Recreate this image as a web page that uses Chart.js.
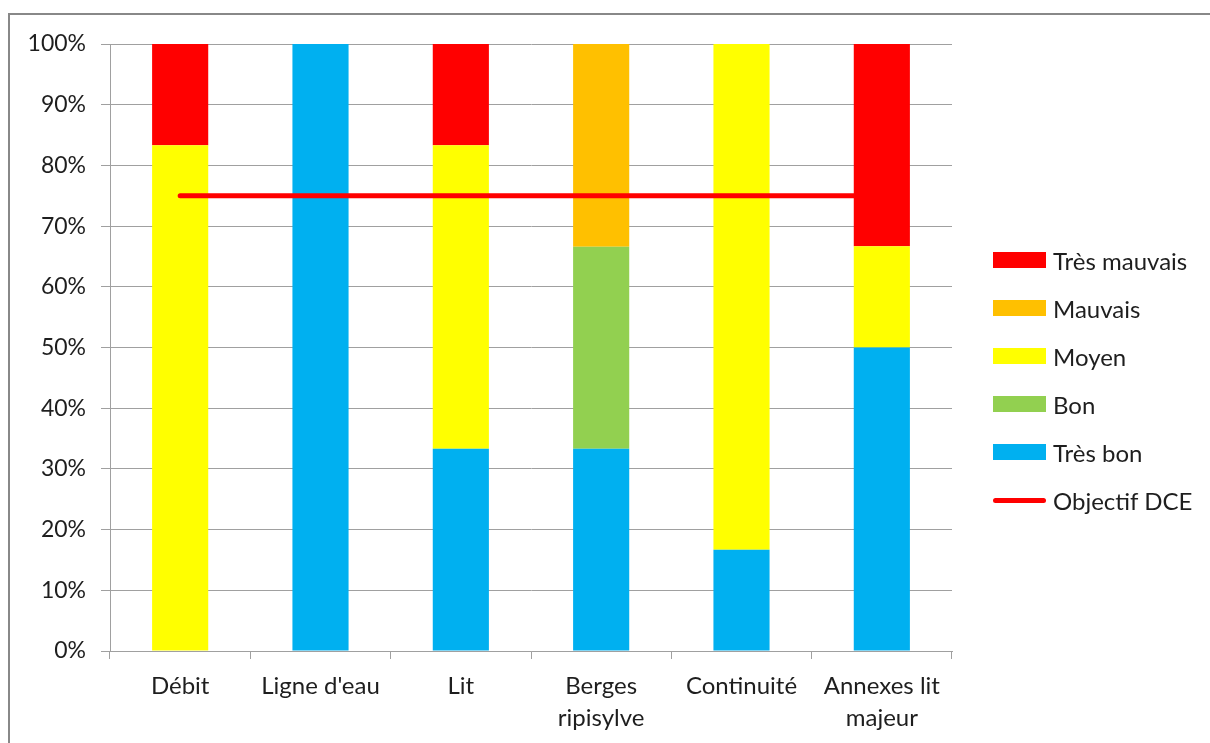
<!DOCTYPE html>
<html>
<head>
<meta charset="utf-8">
<script src="https://cdn.jsdelivr.net/npm/chart.js@4"></script>
<style>
	html, body { margin: 0; padding: 0; background: #fff; }
	body { width: 1210px; height: 743px; position: relative; overflow: hidden; font-family: Lato, "Open Sans", sans-serif; }
	.frame { position: absolute; left: 8px; top: 13px; width: 1300px; height: 800px; border-left: 2px solid #888; border-top: 2px solid #888; }
	#chart { position: absolute; left: 0; top: 0; }
	.legend { position: absolute; left: 993px; top: 249px; }
	.legend-item { height: 48px; display: flex; align-items: center; font-size: 24px; color: #1e1e1e; position: relative; top: -13px; }
	.legend-item .swatch { width: 53px; height: 16px; margin-right: 7px; }
	.legend-item .stroke { width: 53px; height: 5px; border-radius: 3px; margin-right: 7px; }
</style>
</head>
<body>
<div class="frame"></div>
<canvas id="chart" width="1210" height="743"></canvas>
<div class="legend js-legend"></div>
<script>
const categories = ["Débit", "Ligne d'eau", "Lit", ["Berges", "ripisylve"], "Continuité", ["Annexes lit", "majeur"]];

// répartition en % par classe d'état
const tresBon = [0, 100, 33.3, 33.3, 16.7, 50];
const bon = [0, 0, 0, 33.3, 0, 0];
const moyen = [83.3, 0, 50, 0, 83.3, 16.7];
const mauvais = [0, 0, 0, 33.4, 0, 0];
const tresMauvais = [16.7, 0, 16.7, 0, 0, 33.3];
const objectifDCE = [75, 75, 75, 75, 75, 75];

const yTicks = [0, 10, 20, 30, 40, 50, 60, 70, 80, 90, 100];

document.addEventListener("DOMContentLoaded", function () {
	const ctx = document.getElementById("chart").getContext("2d");
	const textColor = '#1e1e1e';
	const gridColor = '#a0a0a0';
	const font = { family: "Lato, 'Open Sans', sans-serif", size: 24, lineHeight: 1.3 };

	const bars = [
		{ label: 'Très bon', data: tresBon, color: '#00B0F0' },
		{ label: 'Bon', data: bon, color: '#92D050' },
		{ label: 'Moyen', data: moyen, color: '#FFFF00' },
		{ label: 'Mauvais', data: mauvais, color: '#FFC000' },
		{ label: 'Très mauvais', data: tresMauvais, color: '#FF0000' },
	];

	const datasets = bars.map((b) => ({
		type: 'bar',
		label: b.label,
		data: b.data,
		backgroundColor: b.color,
		borderWidth: 0,
		barPercentage: 0.4,
		categoryPercentage: 1,
		order: 1,
	}));

	// objectif tracé par-dessus les barres
	datasets.push({
		type: 'line',
		label: 'Objectif DCE',
		data: objectifDCE,
		borderColor: '#FF0000',
		borderWidth: 5,
		borderCapStyle: 'round',
		pointRadius: 0,
		fill: false,
		stack: 'objectif',
		order: 0,
	});

	new Chart(ctx, {
		data: { labels: categories, datasets: datasets },
		options: {
			responsive: false,
			animation: false,
			layout: { padding: { left: 10, top: 44, right: 258, bottom: 0 } },
			plugins: {
				legend: { display: false },
				tooltip: { enabled: false }
			},
			scales: {
				x: {
					stacked: true,
					offset: true,
					grid: { display: true, drawOnChartArea: false, drawTicks: true, tickLength: 8, color: gridColor, offset: true },
					border: { color: gridColor, width: 1 },
					ticks: { color: textColor, font: font, padding: 12, maxRotation: 0, autoSkip: false },
					afterFit: (scale) => { scale.height = 92; }
				},
				y: {
					stacked: true,
					min: 0,
					max: 100,
					afterBuildTicks: (scale) => { scale.ticks = yTicks.map((v) => ({ value: v })); },
					grid: { color: gridColor, tickLength: 9, drawTicks: true },
					border: { color: gridColor, width: 1 },
					ticks: { color: textColor, font: { family: font.family, size: 23 }, padding: 15, callback: (v) => v + '%' },
					afterFit: (scale) => { scale.width = 100; }
				}
			}
		}
	});

	// légende à droite : classes de la pire à la meilleure, puis l'objectif
	const legend = document.querySelector(".js-legend");
	bars.slice().reverse().forEach((b) => {
		legend.insertAdjacentHTML('beforeend',
			'<div class="legend-item"><span class="swatch" style="background:' + b.color + '"></span>' + b.label + '</div>');
	});
	legend.insertAdjacentHTML('beforeend',
		'<div class="legend-item"><span class="stroke" style="background:#FF0000"></span>Objectif DCE</div>');
});
</script>
</body>
</html>
